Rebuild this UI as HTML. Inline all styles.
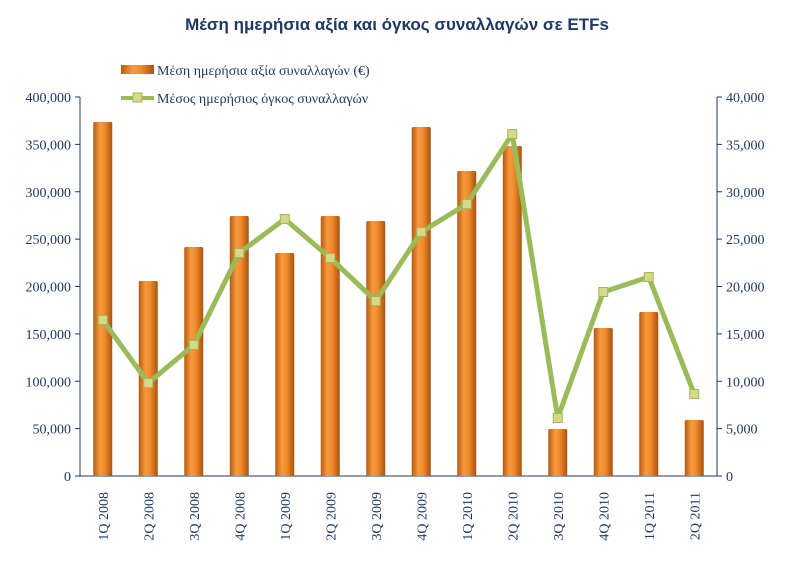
<!DOCTYPE html>
<html><head><meta charset="utf-8"><style>
html,body{margin:0;padding:0;background:#fff;width:795px;height:569px;overflow:hidden}
svg text{font-family:"Liberation Serif",serif;fill:#1F3864}
</style></head><body>
<svg id="c" width="795" height="569">
<defs>
<linearGradient id="bg" x1="0" x2="1" y1="0" y2="0">
<stop offset="0" stop-color="#B65A12"/><stop offset="0.35" stop-color="#F79A3E"/><stop offset="0.6" stop-color="#F28A2A"/><stop offset="1" stop-color="#A9520F"/>
</linearGradient>
</defs>
<text x="397" y="30" text-anchor="middle" font-size="17" font-weight="bold" style="font-family:'Liberation Sans',sans-serif" fill="#1F3864">Μέση ημερήσια αξία και όγκος συναλλαγών σε ETFs</text>
<g>
<rect x="121" y="65" width="33" height="9" fill="url(#bg)"/>
<text x="157" y="75" font-size="14">Μέση ημερήσια αξία συναλλαγών (€)</text>
<line x1="121" y1="98" x2="154" y2="98" stroke="#9BBB59" stroke-width="4"/>
<rect x="133" y="93" width="9" height="9" fill="#D8D78A" stroke="#9BBB59"/>
<text x="157" y="103" font-size="14">Μέσος ημερήσιος όγκος συναλλαγών</text>
</g>
<g id="plot"></g>
</svg>
<script>
const categories=["1Q 2008","2Q 2008","3Q 2008","4Q 2008","1Q 2009","2Q 2009","3Q 2009","4Q 2009","1Q 2010","2Q 2010","3Q 2010","4Q 2010","1Q 2011","2Q 2011"];
const valueSeries=[373600,205800,241700,274400,235300,274400,269100,368300,321900,348300,49600,156200,173100,59100];
const volumeSeries=[16460,9810,13830,23540,27120,23010,18470,25750,28700,36090,6120,19420,21000,8650];
const leftTicks=[0,50000,100000,150000,200000,250000,300000,350000,400000];
const rightTicks=[0,5000,10000,15000,20000,25000,30000,35000,40000];
const X0=80,X1=717,Y0=476,Y1=97;
const yL=v=>Y0-(v/400000)*(Y0-Y1);
const yR=v=>Y0-(v/40000)*(Y0-Y1);
const bw=(X1-X0)/categories.length;
const xC=i=>X0+bw*(i+0.5);
const NS="http://www.w3.org/2000/svg",g=document.getElementById("plot");
function mk(t,a){const e=document.createElementNS(NS,t);for(const k in a)e.setAttribute(k,a[k]);g.appendChild(e);return e;}
const fmt=v=>v.toLocaleString("en-US");
let e;
e=mk("line",{x1:X0,y1:Y1,x2:X0,y2:Y0,stroke:"#1F3864"});


e=mk("line",{x1:X1,y1:Y1,x2:X1,y2:Y0,stroke:"#1F3864"});


e=mk("line",{x1:X0,y1:Y0,x2:X1,y2:Y0,stroke:"#1F3864"});


leftTicks.forEach(v=>{
 mk("line",{x1:X0-5,y1:yL(v),x2:X0,y2:yL(v),stroke:"#1F3864"});
 e=mk("text",{x:X0-9,y:yL(v)+5,"text-anchor":"end","font-size":"14"});e.textContent=fmt(v);
 
 
});
rightTicks.forEach(v=>{
 mk("line",{x1:X1,y1:yR(v),x2:X1+5,y2:yR(v),stroke:"#1F3864"});
 e=mk("text",{x:X1+9,y:yR(v)+5,"text-anchor":"start","font-size":"14"});e.textContent=fmt(v);
 
 
});
valueSeries.forEach((v,i)=>{
 e=mk("rect",{x:xC(i)-9.5,y:yL(v),width:19,height:Y0-yL(v),fill:"url(#bg)",rx:1.5});
 
 
});
categories.forEach((c,i)=>{
 e=mk("text",{x:0,y:0,"text-anchor":"end","font-size":"14",transform:`translate(${xC(i)+5},492) rotate(-90)`});e.textContent=c;
 
 
});
e=mk("polyline",{points:volumeSeries.map((v,i)=>xC(i)+","+yR(v)).join(" "),fill:"none",stroke:"#9BBB59","stroke-width":"5","stroke-linejoin":"round"});


volumeSeries.forEach((v,i)=>{
 e=mk("rect",{x:xC(i)-4.5,y:yR(v)-4.5,width:9,height:9,fill:"#D8D78A",stroke:"#9BBB59"});
 
 
});
</script>
</body></html>
